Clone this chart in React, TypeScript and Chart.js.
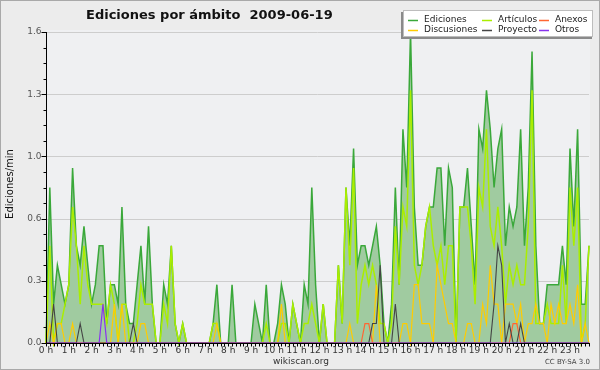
import { useEffect, useRef } from "react";
import { Chart, registerables } from "chart.js";

Chart.register(...registerables);

// 144 ten-minute slots (0h00 .. 23h50)
const slotLabels: string[] = [];
for (let h = 0; h < 24; h++) for (let m = 0; m < 60; m += 10) slotLabels.push(`${h}:${m < 10 ? "0" + m : m}`);

const hourLabels = ["0 h","1 h","2 h","3 h","4 h","5 h","6 h","7 h","8 h","9 h","10 h","11 h","12 h","13 h","14 h","15 h","16 h","17 h","18 h","19 h","20 h","21 h","22 h","23 h"];

const yTickValues = [0, 0.32, 0.64, 0.96, 1.28, 1.6];
const yTickLabels = ["0.0", "0.3", "0.6", "1.0", "1.3", "1.6"];

const ediciones = [
  0, 0.8, 0.2, 0.4, 0.3, 0.2, 0.3, 0.9, 0.5, 0.4, 0.6, 0.4,
  0.2, 0.3, 0.5, 0.5, 0.1, 0.3, 0.3, 0.2, 0.7, 0.2, 0.1, 0.1,
  0.3, 0.5, 0.2, 0.6, 0.2, 0, 0, 0.3, 0.2, 0.5, 0.1, 0,
  0.1, 0, 0, 0, 0, 0, 0, 0, 0.1, 0.3, 0, 0,
  0, 0.3, 0, 0, 0, 0, 0, 0.2, 0.1, 0, 0.3, 0,
  0, 0.1, 0.3, 0.2, 0, 0.2, 0.1, 0, 0.3, 0.2, 0.8, 0.3,
  0, 0.2, 0, 0, 0, 0.4, 0.1, 0.8, 0.5, 1.0, 0.4, 0.5,
  0.5, 0.4, 0.5, 0.6, 0.4, 0.1, 0, 0.2, 0.8, 0.3, 1.1, 0.8,
  1.6, 0.7, 0.4, 0.4, 0.6, 0.7, 0.7, 0.9, 0.9, 0.5, 0.9, 0.8,
  0, 0.7, 0.7, 0.9, 0.6, 0.3, 1.1, 1.0, 1.3, 1.1, 0.8, 1.0,
  1.1, 0.5, 0.7, 0.6, 0.7, 1.1, 0.5, 0.8, 1.5, 0.5, 0.1, 0.1,
  0.3, 0.3, 0.3, 0.3, 0.5, 0.3, 1.0, 0.6, 1.1, 0.2, 0.2, 0.5,
];

const articulos = [
  0, 0.5, 0, 0.1, 0.1, 0.2, 0.3, 0.7, 0.5, 0.2, 0.5, 0.3,
  0.2, 0.2, 0.2, 0.2, 0.1, 0.3, 0.2, 0, 0.2, 0.2, 0, 0,
  0.1, 0.3, 0.2, 0.2, 0.2, 0, 0, 0.2, 0.1, 0.5, 0.1, 0,
  0.1, 0, 0, 0, 0, 0, 0, 0, 0.1, 0.1, 0, 0,
  0, 0, 0, 0, 0, 0, 0, 0, 0, 0, 0.1, 0,
  0, 0, 0.1, 0.1, 0, 0.2, 0.1, 0, 0.1, 0.1, 0.2, 0.1,
  0, 0.2, 0, 0, 0, 0.4, 0.1, 0.8, 0.4, 0.9, 0.1, 0.3,
  0.4, 0.3, 0.4, 0.3, 0.1, 0.1, 0, 0.1, 0.6, 0.3, 0.7, 0.6,
  1.3, 0.4, 0.3, 0.4, 0.6, 0.7, 0.5, 0.4, 0.5, 0.3, 0.5, 0.5,
  0, 0.7, 0.7, 0.7, 0.5, 0.2, 0.8, 0.7, 1.1, 0.6, 0.5, 0.7,
  0.5, 0.2, 0.4, 0.3, 0.4, 0.3, 0.3, 0.6, 1.3, 0.1, 0.1, 0.1,
  0.2, 0.1, 0.1, 0.1, 0.4, 0.1, 0.8, 0.5, 0.8, 0, 0.1, 0.5,
];

const discusiones = [
  0, 0.1, 0, 0.1, 0.1, 0, 0, 0.1, 0, 0, 0, 0,
  0, 0, 0, 0, 0, 0, 0.2, 0, 0.2, 0, 0, 0,
  0, 0.1, 0.1, 0, 0, 0, 0, 0, 0, 0, 0, 0,
  0, 0, 0, 0, 0, 0, 0, 0, 0, 0.1, 0, 0,
  0, 0, 0, 0, 0, 0, 0, 0, 0, 0, 0, 0,
  0, 0, 0.2, 0, 0, 0, 0, 0, 0, 0, 0, 0,
  0, 0, 0, 0, 0, 0, 0, 0, 0.1, 0, 0, 0,
  0, 0, 0, 0.3, 0, 0, 0, 0, 0, 0, 0.1, 0.1,
  0, 0.3, 0.3, 0.1, 0.1, 0.1, 0, 0.4, 0.3, 0.2, 0.1, 0.1,
  0, 0, 0, 0.1, 0.1, 0, 0, 0.2, 0.1, 0.4, 0.2, 0.2,
  0, 0.2, 0.2, 0.2, 0.1, 0.2, 0, 0.1, 0.1, 0.2, 0.1, 0.1,
  0, 0.2, 0.1, 0.2, 0.1, 0.1, 0.2, 0.1, 0.3, 0, 0.1, 0,
];

const anexos = [
  0, 0, 0, 0, 0, 0, 0, 0, 0, 0, 0, 0,
  0, 0, 0, 0, 0, 0, 0, 0, 0, 0, 0, 0,
  0, 0, 0, 0, 0, 0, 0, 0, 0, 0, 0, 0,
  0, 0, 0, 0, 0, 0, 0, 0, 0, 0, 0, 0,
  0, 0, 0, 0, 0, 0, 0, 0, 0, 0, 0, 0,
  0, 0, 0, 0, 0, 0, 0, 0, 0, 0, 0, 0,
  0, 0, 0, 0, 0, 0, 0, 0, 0, 0, 0, 0,
  0.1, 0.1, 0, 0, 0, 0, 0, 0, 0, 0, 0, 0,
  0, 0, 0, 0, 0, 0, 0, 0, 0, 0, 0, 0,
  0, 0, 0, 0, 0, 0, 0, 0, 0, 0, 0, 0,
  0, 0, 0, 0.1, 0.1, 0, 0, 0, 0, 0, 0, 0,
  0, 0, 0, 0, 0, 0, 0, 0, 0, 0, 0, 0,
];

const proyecto = [
  0, 0, 0.2, 0, 0, 0, 0, 0, 0, 0.1, 0, 0,
  0, 0, 0, 0, 0, 0, 0, 0, 0, 0, 0, 0.1,
  0, 0, 0, 0, 0, 0, 0, 0, 0, 0, 0, 0,
  0, 0, 0, 0, 0, 0, 0, 0, 0, 0, 0, 0,
  0, 0, 0, 0, 0, 0, 0, 0, 0, 0, 0, 0,
  0, 0, 0, 0, 0, 0, 0, 0, 0, 0, 0, 0,
  0, 0, 0, 0, 0, 0, 0, 0, 0, 0, 0, 0,
  0, 0, 0.1, 0.1, 0.4, 0, 0, 0, 0.2, 0, 0, 0,
  0, 0, 0, 0, 0, 0, 0, 0, 0, 0, 0, 0,
  0, 0, 0, 0, 0, 0, 0, 0, 0, 0, 0.2, 0.5,
  0.4, 0, 0.1, 0, 0, 0.1, 0, 0, 0, 0, 0, 0,
  0, 0, 0, 0, 0, 0, 0, 0, 0, 0, 0, 0,
];

const otros = [
  0, 0, 0, 0, 0, 0, 0, 0, 0, 0, 0, 0,
  0, 0, 0, 0.2, 0, 0, 0, 0, 0, 0, 0, 0,
  0, 0, 0, 0, 0, 0, 0, 0, 0, 0, 0, 0,
  0, 0, 0, 0, 0, 0, 0, 0, 0, 0, 0, 0,
  0, 0, 0, 0, 0, 0, 0, 0, 0, 0, 0, 0,
  0, 0, 0, 0, 0, 0, 0, 0, 0, 0, 0, 0,
  0, 0, 0, 0, 0, 0, 0, 0, 0, 0, 0, 0,
  0, 0, 0, 0, 0, 0, 0, 0, 0, 0, 0, 0,
  0, 0, 0, 0, 0, 0, 0, 0, 0, 0, 0, 0,
  0, 0, 0, 0, 0, 0, 0, 0, 0, 0, 0, 0,
  0, 0, 0, 0, 0, 0, 0, 0, 0, 0, 0, 0,
  0, 0, 0, 0, 0, 0, 0, 0, 0, 0, 0, 0,
];

const seriesNames = ["Ediciones", "Artículos", "Anexos", "Discusiones", "Proyecto", "Otros"];
const seriesColors = ["#3aa83a", "#aaee00", "#ff6633", "#ffcc00", "#444444", "#8833ee"];

const FONT = "'DejaVu Sans', sans-serif";

const decoPlugin = {
  id: "deco",
  beforeDraw(chart: any) {
    const { ctx, chartArea: a, scales } = chart;
    const y = scales.y;
    ctx.save();
    ctx.fillStyle = "#ececec";
    ctx.fillRect(0, 0, chart.width, chart.height);
    ctx.strokeStyle = "#a9a9a9";
    ctx.lineWidth = 1;
    ctx.strokeRect(0.5, 0.5, chart.width - 1, chart.height - 1);
    ctx.fillStyle = "#eff0f2";
    ctx.fillRect(a.left, a.top - 2, a.right - a.left + 1, a.bottom - a.top + 2);
    ctx.strokeStyle = "#cdcdcd";
    for (const v of yTickValues) {
      if (v === 0) continue;
      const py = Math.round(y.getPixelForValue(v)) + 0.5;
      ctx.beginPath();
      ctx.moveTo(a.left, py);
      ctx.lineTo(a.right, py);
      ctx.stroke();
    }
    ctx.restore();
  },
  afterDraw(chart: any) {
    const { ctx, chartArea: a, scales } = chart;
    const x = scales.x;
    const y = scales.y;
    ctx.save();
    // axes
    ctx.strokeStyle = "#000";
    ctx.lineWidth = 1;
    const ax = Math.round(a.left) + 0.5;
    const ay = Math.round(a.bottom) + 0.5;
    ctx.beginPath();
    ctx.moveTo(ax, a.top);
    ctx.lineTo(ax, ay);
    ctx.lineTo(a.right + 1, ay);
    ctx.stroke();
    // y ticks
    for (let k = 0; k <= 20; k++) {
      const v = k * 0.08;
      const py = Math.round(y.getPixelForValue(v)) + 0.5;
      const len = k % 4 === 0 ? 5 : 3;
      ctx.beginPath();
      ctx.moveTo(ax - len, py);
      ctx.lineTo(ax, py);
      ctx.stroke();
    }
    ctx.fillStyle = "#555";
    ctx.font = `9px ${FONT}`;
    ctx.textAlign = "right";
    ctx.textBaseline = "middle";
    yTickValues.forEach((v, i) => {
      ctx.fillText(yTickLabels[i], ax - 5, y.getPixelForValue(v));
    });
    // x ticks
    for (let i = 0; i < slotLabels.length; i++) {
      const px = Math.round(x.getPixelForValue(i)) + 0.5;
      ctx.beginPath();
      ctx.moveTo(px, ay);
      ctx.lineTo(px, ay + 3);
      ctx.stroke();
    }
    ctx.fillStyle = "#333";
    ctx.textAlign = "center";
    ctx.textBaseline = "middle";
    hourLabels.forEach((lab, h) => {
      ctx.fillText(lab, x.getPixelForValue(h * 6), 351);
    });
    // title
    ctx.fillStyle = "#111";
    ctx.font = `bold 13px ${FONT}`;
    ctx.textAlign = "left";
    ctx.fillText("Ediciones por ámbito  2009-06-19", 86, 16);
    // y title
    ctx.save();
    ctx.translate(10, 184);
    ctx.rotate(-Math.PI / 2);
    ctx.font = `10px ${FONT}`;
    ctx.textAlign = "center";
    ctx.fillStyle = "#111";
    ctx.fillText("Ediciones/min", 0, 0);
    ctx.restore();
    // footer
    ctx.font = `9px ${FONT}`;
    ctx.fillStyle = "#333";
    ctx.textAlign = "center";
    ctx.fillText("wikiscan.org", 301, 362);
    ctx.font = `7px ${FONT}`;
    ctx.fillStyle = "#444";
    ctx.textAlign = "right";
    ctx.fillText("CC BY-SA 3.0", 590, 362);
    // legend
    ctx.fillStyle = "#8a8a8a";
    ctx.fillRect(401, 12, 191, 27);
    ctx.fillStyle = "#fff";
    ctx.fillRect(403, 10, 190, 27);
    ctx.strokeStyle = "#bdbdbd";
    ctx.strokeRect(403.5, 10.5, 189, 26);
    const cols = [408, 482, 539];
    const rows = [20, 29.5];
    const order = [0, 1, 2, 3, 4, 5];
    ctx.font = `9px ${FONT}`;
    ctx.textAlign = "left";
    ctx.textBaseline = "middle";
    order.forEach((si, k) => {
      const c = k % 3;
      const r = Math.floor(k / 3);
      const lx = cols[c];
      const ly = rows[r];
      ctx.strokeStyle = seriesColors[si];
      ctx.lineWidth = 1.5;
      ctx.beginPath();
      ctx.moveTo(lx, Math.round(ly) + 0.5);
      ctx.lineTo(lx + 10, Math.round(ly) + 0.5);
      ctx.stroke();
      ctx.fillStyle = "#222";
      ctx.fillText(seriesNames[si], lx + 16, ly);
    });
    ctx.restore();
  },
};

export default function App() {
  const ref = useRef<HTMLCanvasElement>(null);
  useEffect(() => {
    const mk = (label: string, data: number[], color: string, order: number, width: number, extra: any = {}) => ({
      label,
      data,
      borderColor: color,
      borderWidth: width,
      pointRadius: 0,
      tension: 0,
      order,
      clip: 4,
      fill: false,
      ...extra,
    });
    const chart = new Chart(ref.current as HTMLCanvasElement, {
      type: "line",
      data: {
        labels: slotLabels,
        datasets: [
          mk("Ediciones", ediciones, "#3aa83a", 6, 1.5, { fill: "origin", backgroundColor: "#a0cba0" }),
          mk("Artículos", articulos, "#aaee00", 5, 1.5),
          mk("Discusiones", discusiones, "#ffcc00", 4, 1.2),
          mk("Anexos", anexos, "#ff6633", 3, 1.2),
          mk("Proyecto", proyecto, "#444444", 2, 1.1),
          mk("Otros", otros, "#8833ee", 1, 1.2),
        ] as any,
      },
      options: {
        animation: false,
        responsive: false,
        devicePixelRatio: 1,
        layout: { padding: { left: 46, right: 11, top: 32, bottom: 27 } },
        scales: {
          x: { type: "category", display: false, offset: false },
          y: { type: "linear", display: false, min: 0, max: 1.6 },
        },
        plugins: { legend: { display: false }, tooltip: { enabled: false }, title: { display: false } },
      } as any,
      plugins: [decoPlugin],
    });
    return () => chart.destroy();
  }, []);
  return (
    <div style={{ position: "fixed", left: 0, top: 0, width: 600, height: 370 }}>
      <canvas ref={ref} width={600} height={370} style={{ display: "block", width: 600, height: 370 }} />
    </div>
  );
}
